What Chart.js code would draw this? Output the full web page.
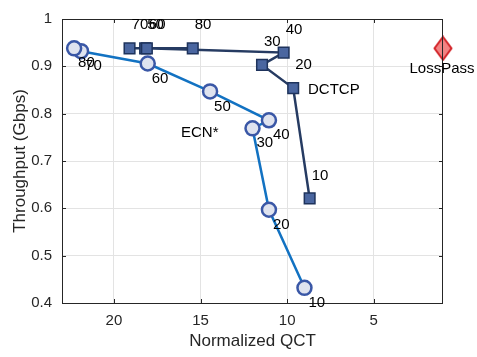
<!DOCTYPE html>
<html>
<head>
<meta charset="utf-8">
<script src="https://cdn.jsdelivr.net/npm/chart.js@4/dist/chart.umd.min.js"></script>
<style>
  html, body { margin: 0; padding: 0; background: #fff; }
  #wrap { width: 477px; height: 357px; }
</style>
</head>
<body>
<div id="wrap"><canvas id="qctChart" width="477" height="357"></canvas></div>
<script>
// Data
const loadLabels = ['10', '20', '30', '40', '50', '60', '70', '80'];
const dctcpQct = [8.7, 9.65, 11.45, 10.2, 18.2, 18.1, 19.1, 15.45];
const dctcpTput = [0.621, 0.854, 0.903, 0.929, 0.938, 0.938, 0.938, 0.938];
const ecnQct = [9.0, 11.05, 12.0, 11.05, 14.45, 18.05, 21.9, 22.3];
const ecnTput = [0.432, 0.597, 0.769, 0.786, 0.847, 0.906, 0.932, 0.938];
const lossPassQct = [1.0];
const lossPassTput = [0.938];
const xTicks = [5, 10, 15, 20];

const ctx = document.getElementById('qctChart').getContext('2d');

// diamond marker (MATLAB style, taller than wide)
const diamond = document.createElement('canvas');
diamond.width = 20; diamond.height = 26;
(function () {
  const d = diamond.getContext('2d');
  d.beginPath();
  d.moveTo(10, 1.5); d.lineTo(18.5, 13); d.lineTo(10, 24.5); d.lineTo(1.5, 13);
  d.closePath();
  d.fillStyle = '#f28383';
  d.fill();
  d.lineWidth = 2;
  d.strokeStyle = '#d3262b';
  d.stroke();
})();

function toPoints(xs, ys) {
  return xs.map((x, i) => ({ x: x, y: ys[i] }));
}

// box, inward ticks, point labels and text annotations
const decorations = {
  id: 'decorations',
  afterDatasetsDraw(chart) {
    const { ctx, chartArea: a, scales } = chart;
    ctx.save();
    ctx.strokeStyle = '#262626';
    ctx.lineWidth = 1;
    ctx.strokeRect(a.left + 0.5, a.top + 0.5, a.right - a.left - 1, a.bottom - a.top);
    ctx.beginPath();
    xTicks.forEach(v => {
      const px = Math.round(scales.x.getPixelForValue(v)) + 0.5;
      ctx.moveTo(px, a.bottom); ctx.lineTo(px, a.bottom - 4);
      ctx.moveTo(px, a.top); ctx.lineTo(px, a.top + 4);
    });
    scales.y.ticks.forEach(t => {
      const py = Math.round(scales.y.getPixelForValue(t.value)) + 0.5;
      ctx.moveTo(a.left, py); ctx.lineTo(a.left + 4, py);
      ctx.moveTo(a.right, py); ctx.lineTo(a.right - 4, py);
    });
    ctx.stroke();

    ctx.fillStyle = '#000';
    ctx.font = '15px "Liberation Sans", Arial, sans-serif';
    ctx.textBaseline = 'middle';
    ctx.textAlign = 'left';
    const dMeta = chart.getDatasetMeta(0);
    dMeta.data.forEach((pt, i) => {
      ctx.fillText(loadLabels[i], pt.x + 2, pt.y - 23);
    });
    const eMeta = chart.getDatasetMeta(1);
    eMeta.data.forEach((pt, i) => {
      ctx.fillText(loadLabels[i], pt.x + 4, pt.y + 15);
    });
    const lMeta = chart.getDatasetMeta(2);
    ctx.textAlign = 'center';
    ctx.fillText('LossPass', lMeta.data[0].x - 1, lMeta.data[0].y + 21);
    ctx.textAlign = 'left';
    ctx.fillText('DCTCP', 308, 90);
    ctx.fillText('ECN*', 181, 133);
    ctx.restore();
  }
};

const fontFamily = '"Liberation Sans", Arial, sans-serif';

new Chart(ctx, {
  type: 'scatter',
  data: {
    datasets: [{
      label: 'DCTCP',
      data: toPoints(dctcpQct, dctcpTput),
      showLine: true,
      borderColor: '#263b62',
      borderWidth: 2.5,
      pointStyle: 'rect',
      pointRadius: 7.5,
      pointBorderWidth: 1.5,
      pointBackgroundColor: '#4a66a0',
      pointBorderColor: '#1e335c',
      clip: false
    }, {
      label: 'ECN*',
      data: toPoints(ecnQct, ecnTput),
      showLine: true,
      borderColor: '#1272c2',
      borderWidth: 2.5,
      pointStyle: 'circle',
      pointRadius: 7,
      pointBorderWidth: 2.5,
      pointBackgroundColor: '#dfe3ef',
      pointBorderColor: '#3a57a6',
      clip: false
    }, {
      label: 'LossPass',
      data: toPoints(lossPassQct, lossPassTput),
      pointStyle: diamond,
      clip: false
    }]
  },
  options: {
    responsive: false,
    animation: false,
    events: [],
    layout: { padding: { left: 0, top: 12, right: 34, bottom: 0 } },
    plugins: {
      legend: { display: false },
      tooltip: { enabled: false }
    },
    scales: {
      x: {
        type: 'linear',
        reverse: true,
        min: 1,
        max: 23,
        afterBuildTicks: s => { s.ticks = xTicks.map(v => ({ value: v })); },
        afterFit: s => { s.height = 54; },
        grid: { color: '#e3e3e3', drawTicks: false },
        border: { display: false },
        ticks: { color: '#262626', padding: 9, font: { family: fontFamily, size: 15 } },
        title: {
          display: true,
          text: 'Normalized QCT',
          color: '#262626',
          padding: { top: 0, bottom: 5 },
          font: { family: fontFamily, size: 17 }
        }
      },
      y: {
        min: 0.4,
        max: 1,
        ticks: {
          stepSize: 0.1,
          color: '#262626',
          padding: 10,
          font: { family: fontFamily, size: 15 },
          callback: v => String(Number(v.toFixed(1)))
        },
        afterFit: s => { s.width = 62; },
        grid: { color: '#e3e3e3', drawTicks: false },
        border: { display: false },
        title: {
          display: true,
          text: 'Throughput (Gbps)',
          color: '#262626',
          padding: { top: 10, bottom: 0 },
          font: { family: fontFamily, size: 17 }
        }
      }
    }
  },
  plugins: [decorations]
});
</script>
</body>
</html>
